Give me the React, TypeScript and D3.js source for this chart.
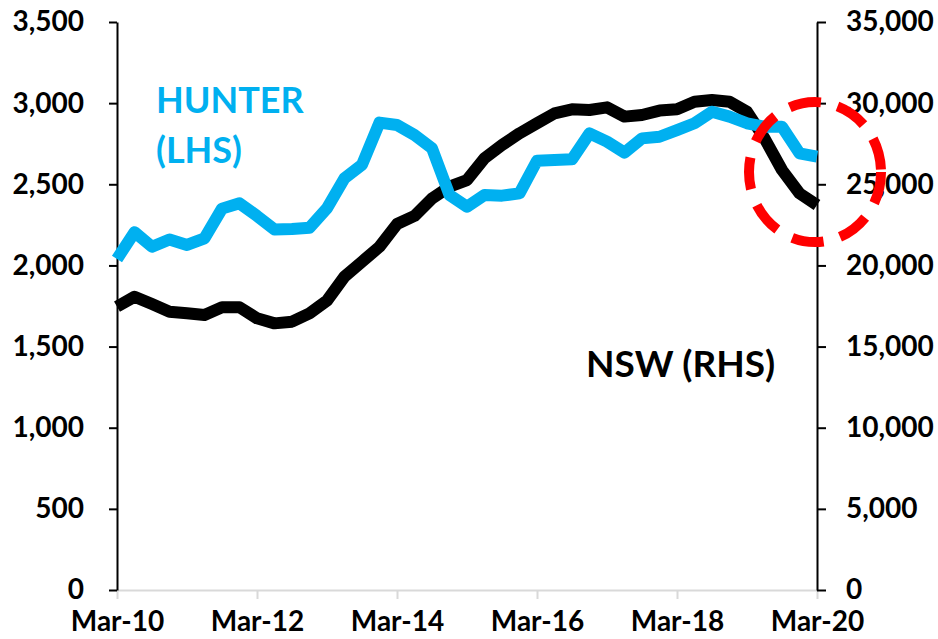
import React, { useEffect, useRef } from 'react';
import { select, scalePoint, scaleLinear, line, axisLeft, axisRight, axisBottom } from 'd3';

const quarters = [
  'Mar-10', 'Jun-10', 'Sep-10', 'Dec-10', 'Mar-11', 'Jun-11', 'Sep-11', 'Dec-11',
  'Mar-12', 'Jun-12', 'Sep-12', 'Dec-12', 'Mar-13', 'Jun-13', 'Sep-13', 'Dec-13',
  'Mar-14', 'Jun-14', 'Sep-14', 'Dec-14', 'Mar-15', 'Jun-15', 'Sep-15', 'Dec-15',
  'Mar-16', 'Jun-16', 'Sep-16', 'Dec-16', 'Mar-17', 'Jun-17', 'Sep-17', 'Dec-17',
  'Mar-18', 'Jun-18', 'Sep-18', 'Dec-18', 'Mar-19', 'Jun-19', 'Sep-19', 'Dec-19',
  'Mar-20',
];

// Hunter region, left axis
const hunter = [
  2040, 2205, 2115, 2160, 2126, 2167, 2350, 2383, 2305, 2222,
  2224, 2232, 2352, 2537, 2620, 2880, 2865, 2804, 2722, 2434,
  2362, 2434, 2430, 2444, 2645, 2650, 2654, 2814, 2763, 2695,
  2783, 2793, 2834, 2876, 2947, 2917, 2876, 2855, 2855, 2691,
  2670,
];

// NSW, right axis
const nsw = [
  17460, 18075, 17620, 17150, 17050, 16945, 17420, 17420, 16740, 16430,
  16535, 17050, 17830, 19310, 20230, 21150, 22550, 23050, 24130, 24850,
  25260, 26600, 27420, 28140, 28760, 29370, 29620, 29580, 29740, 29170,
  29270, 29540, 29620, 30090, 30190, 30090, 29470, 27830, 25880, 24440,
  23720,
];

const xTicks = ['Mar-10', 'Mar-12', 'Mar-14', 'Mar-16', 'Mar-18', 'Mar-20'];
const leftTicks = [0, 500, 1000, 1500, 2000, 2500, 3000, 3500];
const rightTicks = [0, 5000, 10000, 15000, 20000, 25000, 30000, 35000];

const W = 938;
const H = 639;
const margin = { top: 22, right: 121, bottom: 49, left: 117 };
const font = 'Lato, Carlito, Calibri, sans-serif';
const tickFont = 28;

const App = () => {
  const svgRef = useRef<SVGSVGElement>(null);

  useEffect(() => {
    const svg = select(svgRef.current);
    svg.selectAll('*').remove();

    const x = scalePoint<string>().domain(quarters).range([margin.left, W - margin.right]);
    const yL = scaleLinear().domain([0, 3500]).range([H - margin.bottom, margin.top]);
    const yR = scaleLinear().domain([0, 35000]).range([H - margin.bottom, margin.top]);

    // bottom axis (grey)
    const gx = svg.append('g')
      .attr('transform', `translate(0,${H - margin.bottom})`)
      .call(axisBottom(x).tickValues(xTicks).tickSize(9).tickPadding(12).tickSizeOuter(0));
    gx.select('.domain').attr('stroke', '#d9d9d9').attr('stroke-width', 2);
    gx.selectAll('.tick line').attr('stroke', '#d9d9d9').attr('stroke-width', 2);
    gx.selectAll('.tick text')
      .attr('font-family', font).attr('font-size', tickFont).attr('font-weight', 700).attr('fill', '#000');

    // left axis
    const gl = svg.append('g')
      .attr('transform', `translate(${margin.left},0)`)
      .call(axisLeft(yL).tickValues(leftTicks).tickSize(8).tickPadding(25).tickSizeOuter(0)
        .tickFormat(d => (d as number).toLocaleString('en-US')));
    gl.select('.domain').attr('stroke', '#000').attr('stroke-width', 2);
    gl.selectAll('.tick line').attr('stroke', '#000').attr('stroke-width', 2);
    gl.selectAll('.tick text')
      .attr('font-family', font).attr('font-size', tickFont).attr('font-weight', 700).attr('fill', '#000');

    // right axis
    const gr = svg.append('g')
      .attr('transform', `translate(${W - margin.right},0)`)
      .call(axisRight(yR).tickValues(rightTicks).tickSize(9).tickPadding(20).tickSizeOuter(0)
        .tickFormat(d => (d as number).toLocaleString('en-US')));
    gr.select('.domain').attr('stroke', '#000').attr('stroke-width', 2);
    gr.selectAll('.tick line').attr('stroke', '#000').attr('stroke-width', 2);
    gr.selectAll('.tick text')
      .attr('font-family', font).attr('font-size', tickFont).attr('font-weight', 700).attr('fill', '#000');

    // lines
    const nswLine = line<number>().x((_, i) => x(quarters[i]) as number).y(d => yR(d));
    const hunterLine = line<number>().x((_, i) => x(quarters[i]) as number).y(d => yL(d));

    svg.append('path')
      .datum(nsw)
      .attr('d', nswLine)
      .attr('fill', 'none')
      .attr('stroke', '#000')
      .attr('stroke-width', 12)
      .attr('stroke-linejoin', 'round');

    svg.append('path')
      .datum(hunter)
      .attr('d', hunterLine)
      .attr('fill', 'none')
      .attr('stroke', '#00b0f0')
      .attr('stroke-width', 12)
      .attr('stroke-linejoin', 'round');

    // red dashed ring round the latest drop
    svg.append('ellipse')
      .attr('cx', (x('Mar-20') as number) - 2)
      .attr('cy', yR(25750))
      .attr('rx', 66)
      .attr('ry', 70)
      .attr('fill', 'none')
      .attr('stroke', '#ff0000')
      .attr('stroke-width', 10)
      .attr('stroke-dasharray', '32 17');

    // series labels
    svg.append('text')
      .attr('x', 156).attr('y', 113)
      .attr('font-family', font).attr('font-size', 36).attr('font-weight', 700)
      .attr('fill', '#00b0f0')
      .text('HUNTER');
    svg.append('text')
      .attr('x', 156).attr('y', 163)
      .attr('font-family', font).attr('font-size', 36).attr('font-weight', 700)
      .attr('fill', '#00b0f0')
      .text('(LHS)');
    svg.append('text')
      .attr('x', 586).attr('y', 377)
      .attr('font-family', font).attr('font-size', 37).attr('font-weight', 700)
      .attr('fill', '#000')
      .text('NSW (RHS)');
  }, []);

  return (
    <svg ref={svgRef} width={W} height={H}
      style={{ position: 'absolute', left: 0, top: 0, background: '#fff' }} />
  );
};

export default App;
